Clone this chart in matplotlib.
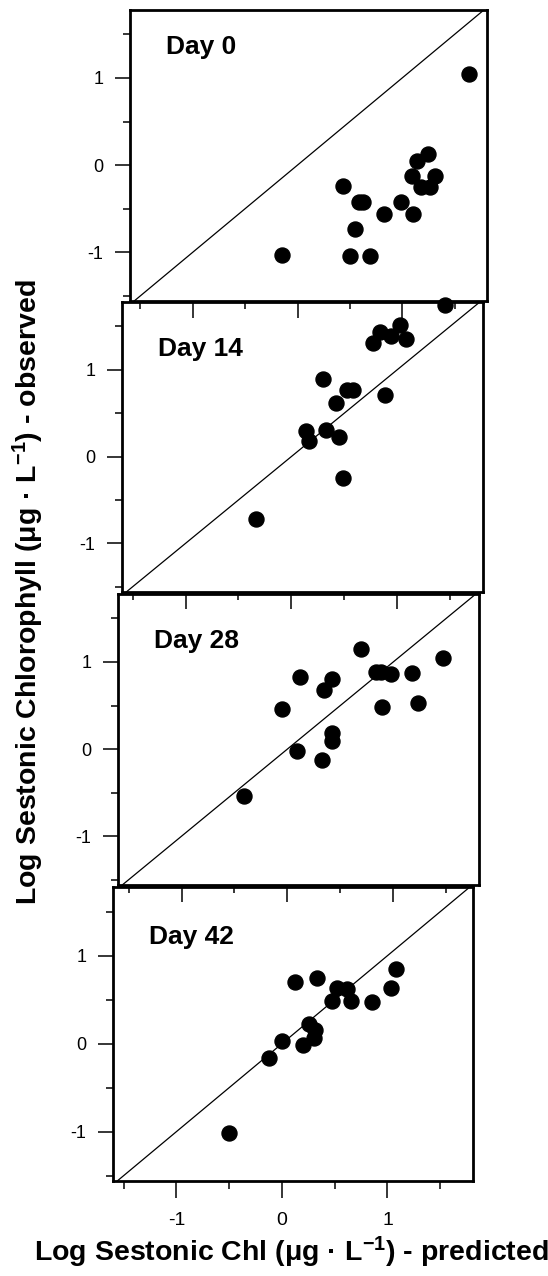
import matplotlib
matplotlib.use("Agg")
import matplotlib.pyplot as plt
from matplotlib.ticker import FixedLocator, FixedFormatter

plt.rcParams['font.family'] = ['Liberation Sans', 'DejaVu Sans']
plt.rcParams['mathtext.fontset'] = 'custom'
plt.rcParams['mathtext.rm'] = 'Liberation Sans:bold'
plt.rcParams['mathtext.it'] = 'Liberation Sans:bold'
plt.rcParams['mathtext.bf'] = 'Liberation Sans:bold'
plt.rcParams['axes.unicode_minus'] = False

# log sestonic chl: predicted (x) vs observed (y)
day_names = ["Day 0", "Day 14", "Day 28", "Day 42"]

pred_d0 = [1.64, -0.15, 0.43, 0.59, 0.63, 0.55, 0.50, 0.69, 0.83, 0.99, 1.10,
           1.09, 1.14, 1.25, 1.31, 1.18, 1.27]
obs_d0 = [1.05, -1.03, -0.24, -0.42, -0.42, -0.73, -1.04, -1.04, -0.56, -0.42,
          -0.56, -0.12, 0.05, 0.13, -0.12, -0.25, -0.25]

pred_d14 = [1.45, 1.03, 0.84, 0.94, 0.77, 1.08, 0.30, 0.53, 0.58, 0.42, 0.88,
            0.14, 0.17, 0.33, 0.45, 0.49, -0.33]
obs_d14 = [1.74, 1.51, 1.44, 1.39, 1.31, 1.35, 0.89, 0.77, 0.77, 0.62, 0.71,
           0.29, 0.18, 0.31, 0.23, -0.25, -0.72]

pred_d28 = [0.70, 1.47, 0.12, 0.42, 0.35, 0.84, 0.88, 0.98, 1.18, -0.05, 0.89,
            1.23, 0.42, 0.42, 0.09, 0.33, -0.41]
obs_d28 = [1.15, 1.04, 0.83, 0.81, 0.68, 0.88, 0.88, 0.86, 0.87, 0.46, 0.48,
           0.53, 0.18, 0.09, -0.02, -0.12, -0.54]

pred_d42 = [1.08, 0.12, 0.33, 0.52, 0.62, 1.03, 0.47, 0.65, 0.85, 0.26, 0.31,
            0.30, 0.20, 0.00, -0.12, -0.50]
obs_d42 = [0.85, 0.70, 0.75, 0.63, 0.62, 0.63, 0.49, 0.49, 0.47, 0.22, 0.16,
           0.06, -0.02, 0.03, -0.16, -1.01]

pred_all = [pred_d0, pred_d14, pred_d28, pred_d42]
obs_all = [obs_d0, obs_d14, obs_d28, obs_d42]

one_to_one = [-2, 2]
tick_vals = [-1, 0, 1]
tick_text = ["-1", "0", "1"]

W, H = 548, 1276
fig = plt.figure(figsize=(W / 100, H / 100), dpi=100)

# panel boxes in pixels (left, right, top, bottom); the scan is slightly skewed
boxes = [(130, 487, 10, 301), (122, 483, 302, 592), (118, 479, 594, 885), (113, 473, 887, 1181)]
label_top = [0.915, 0.878, 0.88, 0.87]

for i, (l, r, t, b) in enumerate(boxes):
    ax = fig.add_axes([l / W, 1 - b / H, (r - l) / W, (b - t) / H])
    ax.set_facecolor("none")
    ax.plot(one_to_one, one_to_one, color="black", lw=0.9, zorder=1)
    ax.plot(pred_all[i], obs_all[i], "o", color="black", ms=10.8, clip_on=False, zorder=3)
    ax.set_xlim(-1.6, 1.81)
    ax.set_ylim(-1.56, 1.78)
    for s in ax.spines.values():
        s.set_linewidth(2.0)
    ax.xaxis.set_major_locator(FixedLocator(tick_vals))
    ax.yaxis.set_major_locator(FixedLocator(tick_vals))
    ax.xaxis.set_minor_locator(FixedLocator([-1.5, -0.5, 0.5, 1.5]))
    ax.yaxis.set_minor_locator(FixedLocator([-1.5, -0.5, 0.5, 1.5]))
    ax.yaxis.set_major_formatter(FixedFormatter(tick_text))
    ax.tick_params(axis="y", which="major", direction="out", length=11, width=1.1, labelsize=13, pad=8)
    ax.tick_params(axis="y", which="minor", direction="out", length=5, width=1.1)
    ax.tick_params(axis="x", which="major", direction="out", length=12, width=1.1, labelsize=14, pad=10)
    ax.tick_params(axis="x", which="minor", direction="out", length=6, width=1.1)
    if i == 3:
        ax.xaxis.set_major_formatter(FixedFormatter(tick_text))
    else:
        ax.tick_params(axis="x", labelbottom=False)
    ax.text(0.10, label_top[i], day_names[i], transform=ax.transAxes,
            fontsize=19, fontweight="bold", ha="left", va="top")

fig.text(291 / W, 1 - 1252 / H, "Log Sestonic Chl (μg · L$^{-1}$) - predicted",
         fontsize=20.5, fontweight="bold", ha="center", va="center")
fig.text(28 / W, 1 - 592 / H, "Log Sestonic Chlorophyll (μg · L$^{-1}$) - observed",
         fontsize=20.5, fontweight="bold", ha="center", va="center", rotation=90)

fig.savefig("out.png", dpi=100)
